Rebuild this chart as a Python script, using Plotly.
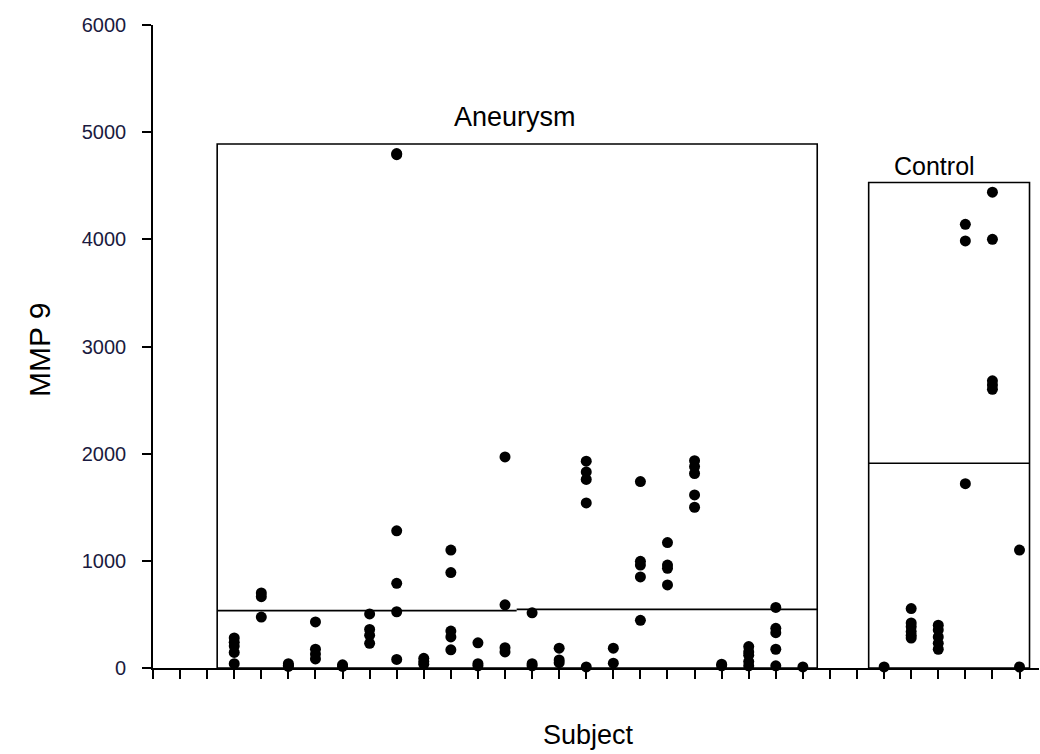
import plotly.graph_objects as go

# ---- data ----
aneurysm_subjects = list(range(3, 25))
aneurysm_values = [
    [280, 240, 205, 145, 40],
    [700, 665, 475],
    [40, 25, 15],
    [430, 175, 130, 85],
    [30, 15],
    [505, 360, 305, 230],
    [4800, 4790, 1280, 790, 525, 80],
    [90, 60, 35],
    [1100, 890, 345, 290, 170],
    [235, 40, 20],
    [1970, 590, 190, 150],
    [515, 40, 20],
    [185, 75, 50],
    [1930, 1830, 1760, 1540, 10],
    [185, 45],
    [1740, 995, 960, 850, 445],
    [1170, 960, 930, 775],
    [1935, 1880, 1815, 1615, 1500],
    [35, 20],
    [200, 150, 120, 60, 20],
    [565, 370, 330, 175, 20],
    [10],
]
control_subjects = list(range(27, 33))
control_values = [
    [10],
    [555, 420, 385, 340, 305, 280],
    [400, 355, 290, 230, 175],
    [4140, 3985, 1720],
    [4440, 4000, 2680, 2640, 2600],
    [1100, 10],
]
group_names = ["Aneurysm", "Control"]
box_tops = [4890, 4530]
medians_aneurysm = [535, 547]
median_control = 1910
y_ticks = [0, 1000, 2000, 3000, 4000, 5000, 6000]

# ---- layout constants ----
AN_X0, AN_XMID, AN_X1 = 2.37, 13.43, 24.53
CO_X0, CO_X1 = 26.43, 32.37


def flatten(subjects, values):
    xs, ys = [], []
    for s, vals in zip(subjects, values):
        for v in vals:
            xs.append(s)
            ys.append(v)
    return xs, ys


ax, ay = flatten(aneurysm_subjects, aneurysm_values)
cx, cy = flatten(control_subjects, control_values)

fig = go.Figure()
for xs, ys, name in [(ax, ay, group_names[0]), (cx, cy, group_names[1])]:
    fig.add_trace(go.Scatter(
        x=xs, y=ys, mode="markers", name=name,
        marker=dict(color="black", size=11, symbol="circle", line=dict(width=0)),
        cliponaxis=False, showlegend=False,
    ))

line_style = dict(color="black", width=1.6)
shapes = [
    dict(type="rect", xref="x", yref="y", x0=AN_X0, x1=AN_X1, y0=0, y1=box_tops[0],
         line=line_style, layer="below"),
    dict(type="rect", xref="x", yref="y", x0=CO_X0, x1=CO_X1, y0=0, y1=box_tops[1],
         line=line_style, layer="below"),
    dict(type="line", xref="x", yref="y", x0=AN_X0, x1=AN_XMID,
         y0=medians_aneurysm[0], y1=medians_aneurysm[0], line=line_style, layer="below"),
    dict(type="line", xref="x", yref="y", x0=AN_XMID, x1=AN_X1,
         y0=medians_aneurysm[1], y1=medians_aneurysm[1], line=line_style, layer="below"),
    dict(type="line", xref="x", yref="y", x0=CO_X0, x1=CO_X1,
         y0=median_control, y1=median_control, line=line_style, layer="below"),
]

font_family = "Liberation Sans, Arial, sans-serif"
annotations = [
    dict(text=group_names[0], xref="x", yref="y", x=13.36, y=5141, showarrow=False,
         xanchor="center", yanchor="middle",
         font=dict(family=font_family, size=27, color="black")),
    dict(text=group_names[1], xref="x", yref="y", x=28.87, y=4684, showarrow=False,
         xanchor="center", yanchor="middle",
         font=dict(family=font_family, size=25, color="black")),
    dict(text="MMP 9", xref="paper", yref="paper", x=(40 - 153) / 886, y=0.4946,
         showarrow=False, textangle=-90, xanchor="center", yanchor="middle",
         font=dict(family=font_family, size=30, color="black")),
    dict(text="Subject", xref="paper", yref="paper", x=(588 - 153) / 886, y=-0.1042,
         showarrow=False, xanchor="center", yanchor="middle",
         font=dict(family=font_family, size=27, color="black")),
]

fig.update_layout(
    width=1040, height=754,
    margin=dict(l=153, r=1, t=25, b=86, pad=0),
    paper_bgcolor="white", plot_bgcolor="white",
    shapes=shapes, annotations=annotations,
    font=dict(family=font_family, color="black"),
)
fig.update_xaxes(
    range=[0, 32.72], tickmode="linear", tick0=0, dtick=1,
    ticks="outside", ticklen=9, tickwidth=1.5, tickcolor="black",
    showticklabels=False, showline=True, linecolor="black", linewidth=1.6,
    showgrid=False, zeroline=False,
)
fig.update_yaxes(
    range=[0, 6000], tickmode="array", tickvals=y_ticks,
    ticktext=[str(t) for t in y_ticks],
    ticks="outside", ticklen=9, tickwidth=1.5, tickcolor="black",
    ticklabelstandoff=12,
    tickfont=dict(family=font_family, size=20, color="#1a1a40"),
    showline=True, linecolor="black", linewidth=1.6,
    showgrid=False, zeroline=False,
)

fig.write_html("out.html")
